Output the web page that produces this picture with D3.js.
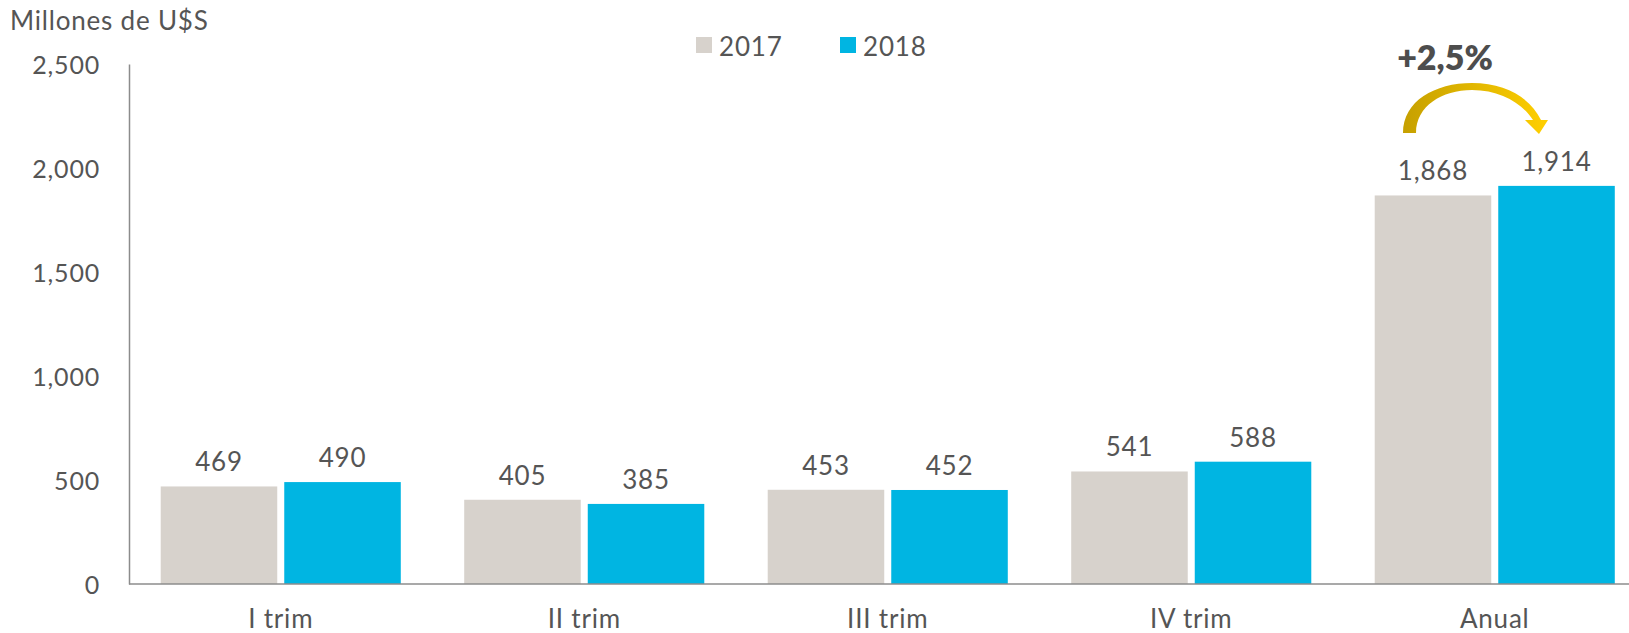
<!DOCTYPE html>
<html>
<head>
<meta charset="utf-8">
<script src="https://cdn.jsdelivr.net/npm/d3@7"></script>
<style>
  html, body { margin: 0; padding: 0; background: #fff; }
  svg { display: block; }
  text { font-family: Lato, "Open Sans", sans-serif; fill: #555555; font-weight: 400; letter-spacing: 0.8px; }
</style>
</head>
<body>
<svg id="chart" width="1629" height="633"></svg>
<script>
const categories = ["I trim", "II trim", "III trim", "IV trim", "Anual"];
const series = ["2017", "2018"];
const values2017 = [469, 405, 453, 541, 1868];
const values2018 = [490, 385, 452, 588, 1914];
const yTicks = [0, 500, 1000, 1500, 2000, 2500];
const colors = { "2017": "#d7d2cc", "2018": "#00b5e2" };
const yTitle = "Millones de U$S";
const annotation = "+2,5%";

const svg = d3.select("#chart");
const x0 = 129, yTop = 64, yBase = 584;

const x = d3.scaleBand().domain(categories).range([x0, 1646.5]).paddingInner(0.209).paddingOuter(0.1045);
const xs = d3.scaleBand().domain(series).range([0, x.bandwidth()]).paddingInner(0.0567).paddingOuter(0);
const y = d3.scaleLinear().domain([0, 2500]).range([yBase, yTop]);
const fmt = d3.format(",");

const data = series.map(s => ({ s, vals: s === "2017" ? values2017 : values2018 }));

// bars
data.forEach(d => {
  const g = svg.append("g");
  g.selectAll("rect").data(d.vals).join("rect")
    .attr("x", (v, i) => x(categories[i]) + xs(d.s))
    .attr("y", v => y(v))
    .attr("width", xs.bandwidth())
    .attr("height", v => yBase - y(v))
    .attr("fill", colors[d.s]);
  g.selectAll("text").data(d.vals).join("text")
    .attr("x", (v, i) => x(categories[i]) + xs(d.s) + xs.bandwidth() / 2)
    .attr("y", v => y(v) - 15)
    .attr("text-anchor", "middle")
    .attr("font-size", 26)
    .text(v => fmt(v));
});

// y axis
const yAxis = d3.axisLeft(y).tickValues(yTicks).tickSize(0).tickPadding(29).tickFormat(fmt);
const ya = svg.append("g").attr("transform", `translate(${x0},0)`).call(yAxis);
ya.select(".domain").attr("stroke", "#8c8c8c").attr("stroke-width", 1.5);
ya.selectAll("text").attr("font-size", 25).attr("fill", null).attr("dy", "0.36em");

// x axis
const xAxis = d3.axisBottom(x).tickSize(0).tickPadding(26);
const xa = svg.append("g").attr("transform", `translate(0,${yBase})`).call(xAxis);
xa.select(".domain").attr("stroke", "#8c8c8c").attr("stroke-width", 1.5)
  .attr("d", `M${x0},0H1629`);
xa.selectAll("text").attr("font-size", 26).attr("fill", null);
svg.selectAll("g").attr("font-family", null);

// title
svg.append("text").attr("x", 10).attr("y", 30).attr("font-size", 26).text(yTitle);

// legend
const leg = svg.append("g");
[[696, "2017"], [840, "2018"]].forEach(([lx, s]) => {
  leg.append("rect").attr("x", lx).attr("y", 37).attr("width", 16).attr("height", 16).attr("fill", colors[s]);
  leg.append("text").attr("x", lx + 23).attr("y", 56).attr("font-size", 26).text(s);
});

// annotation arrow
const defs = svg.append("defs");
const grad = defs.append("linearGradient").attr("id", "gold").attr("x1", "0%").attr("x2", "100%");
grad.append("stop").attr("offset", "0%").attr("stop-color", "#c6a000");
grad.append("stop").attr("offset", "100%").attr("stop-color", "#ffcf00");
svg.append("path")
  .attr("d", "M1403,133 C1403,101 1435,83 1472,83 C1506,83 1530,98 1541,120 L1548,120 L1539,134 L1525,120 L1533,120 C1522,103 1500,90 1472,90 C1442,90 1416,106 1416,133 Z")
  .attr("fill", "url(#gold)");
svg.append("text").attr("x", 1445).attr("y", 70).attr("text-anchor", "middle")
  .attr("font-size", 34).style("font-weight", 800).style("letter-spacing", "0px").style("fill", "#4d4d4d").text(annotation);
</script>
</body>
</html>
